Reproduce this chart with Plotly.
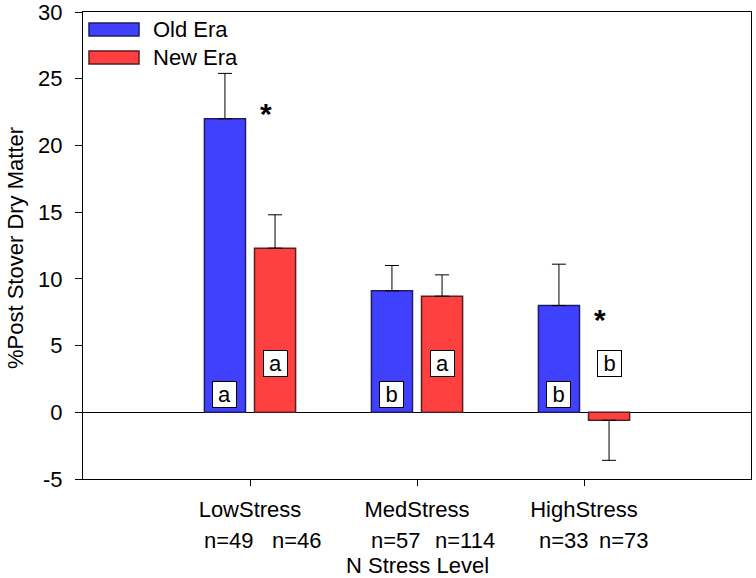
import plotly.graph_objects as go

# ---------------- data ----------------
categories = ["LowStress", "MedStress", "HighStress"]
old_era = [22.0, 9.1, 8.0]
old_err = [3.4, 1.9, 3.1]
new_era = [12.3, 8.7, -0.6]
new_err = [2.5, 1.6, 3.0]
old_letters = ["a", "b", "b"]
new_letters = ["a", "a", "b"]
old_n = ["n=49", "n=57", "n=33"]
new_n = ["n=46", "n=114", "n=73"]
star_cats = [0, 2]
star_values = [22.4, 6.95]
y_tickvals = [-5, 0, 5, 10, 15, 20, 25, 30]
y_ticktext = ["-5", "0", "5", "10", "15", "20", "25", "30"]

FONT = "Liberation Sans, Arial, sans-serif"
FS = 22
BLUE, BLUE_LINE = "#4040ff", "#1e1e60"
RED, RED_LINE = "#ff4040", "#5a1e1e"

W, H = 756, 578
L, T = 83, 12
plot_w, plot_h = 668, 467
R, B = W - L - plot_w, H - T - plot_h
cat_px = plot_w / 4.0
bargap, bargroupgap = 0.40, 0.18
off = (1 - bargap) / 4.0


def px_x(xp):
    return (xp - L) / plot_w


def px_y(yp):
    return 1 - (yp - T) / plot_h


def split_err(vals, errs):
    plus = [e if v >= 0 else 0 for v, e in zip(vals, errs)]
    minus = [0 if v >= 0 else e for v, e in zip(vals, errs)]
    return plus, minus


op, om = split_err(old_era, old_err)
np_, nm = split_err(new_era, new_err)

fig = go.Figure()
fig.add_trace(go.Bar(
    x=categories, y=old_era, name="Old Era", showlegend=False,
    marker=dict(color=BLUE, line=dict(color=BLUE_LINE, width=1.5)),
    error_y=dict(type="data", symmetric=False, array=op, arrayminus=om,
                 color="black", thickness=1, width=7),
))
fig.add_trace(go.Bar(
    x=categories, y=new_era, name="New Era", showlegend=False,
    marker=dict(color=RED, line=dict(color=RED_LINE, width=1.5)),
    error_y=dict(type="data", symmetric=False, array=np_, arrayminus=nm,
                 color="black", thickness=1, width=7),
))

txt = dict(family=FONT, size=FS, color="black")
ann = []
# significance letters in boxes
for i in range(len(categories)):
    ann.append(dict(x=i - off, y=1.31, xref="x", yref="y", text=old_letters[i],
                    showarrow=False, font=txt,
                    bgcolor="white", bordercolor="black", borderwidth=1, borderpad=1,
                    width=21, height=23))
    ann.append(dict(x=i + off, y=3.67, xref="x", yref="y", text=new_letters[i],
                    showarrow=False, font=txt,
                    bgcolor="white", bordercolor="black", borderwidth=1, borderpad=1,
                    width=21, height=23))
# asterisks
for c, v in zip(star_cats, star_values):
    ann.append(dict(x=c + 16 / cat_px, y=v, xref="x", yref="y", text="<b>*</b>",
                    showarrow=False, font=dict(family=FONT, size=30, color="black")))
# n labels
old_n_left = [-48, -48, -47]
new_n_left = [20, 16, 13]
for i in range(len(categories)):
    ann.append(dict(x=i + old_n_left[i] / cat_px, y=0, xref="x", yref="paper",
                    yanchor="top", xanchor="left", yshift=-47, text=old_n[i],
                    showarrow=False, font=txt))
    ann.append(dict(x=i + new_n_left[i] / cat_px, y=0, xref="x", yref="paper",
                    yanchor="top", xanchor="left", yshift=-47, text=new_n[i],
                    showarrow=False, font=txt))
# x axis title
ann.append(dict(x=1, y=0, xref="x", yref="paper", yanchor="bottom", xanchor="center",
                yshift=-101, text="N Stress Level", showarrow=False, font=txt))
# y axis title
ann.append(dict(x=px_x(15), y=px_y(248), xref="paper", yref="paper",
                xanchor="center", yanchor="middle", textangle=-90,
                text="%Post Stover Dry Matter", showarrow=False, font=txt))
# legend
leg_items = [("Old Era", BLUE, BLUE_LINE, 29.5), ("New Era", RED, RED_LINE, 57.5)]
shapes = []
for name, col, lc, yc in leg_items:
    shapes.append(dict(type="rect", xref="paper", yref="paper",
                       x0=px_x(89), x1=px_x(139), y0=px_y(yc + 6.5), y1=px_y(yc - 6.5),
                       fillcolor=col, line=dict(color=lc, width=1.5)))
    ann.append(dict(x=px_x(151), y=px_y(yc), xref="paper",
                    yref="paper", xanchor="left", yanchor="middle", text=name,
                    showarrow=False, font=txt))

fig.update_layout(
    width=W, height=H,
    margin=dict(l=L, r=R, t=T, b=B, autoexpand=False),
    paper_bgcolor="white", plot_bgcolor="white",
    barmode="group", bargap=bargap, bargroupgap=bargroupgap,
    font=txt,
    annotations=ann, shapes=shapes, showlegend=False,
)
fig.update_xaxes(
    range=[-1, 3], showline=True, linecolor="black", linewidth=1, mirror=True,
    ticks="outside", ticklen=6, tickcolor="black", tickwidth=1,
    showgrid=False, zeroline=False, ticklabelstandoff=5, automargin=False,
    tickfont=txt,
)
fig.update_yaxes(
    range=[-5, 30], tickvals=y_tickvals, ticktext=y_ticktext,
    showline=True, linecolor="black", linewidth=1,
    mirror=True, ticks="outside", ticklen=7, tickcolor="black", tickwidth=1,
    showgrid=False, zeroline=True, zerolinecolor="black", zerolinewidth=1,
    ticklabelstandoff=8, automargin=False, tickfont=txt, ticklabeloverflow="allow",
)

fig.write_html("out.html", config={"displayModeBar": False},
               post_script="document.body.style.margin='0';document.body.style.overflow='hidden';")
